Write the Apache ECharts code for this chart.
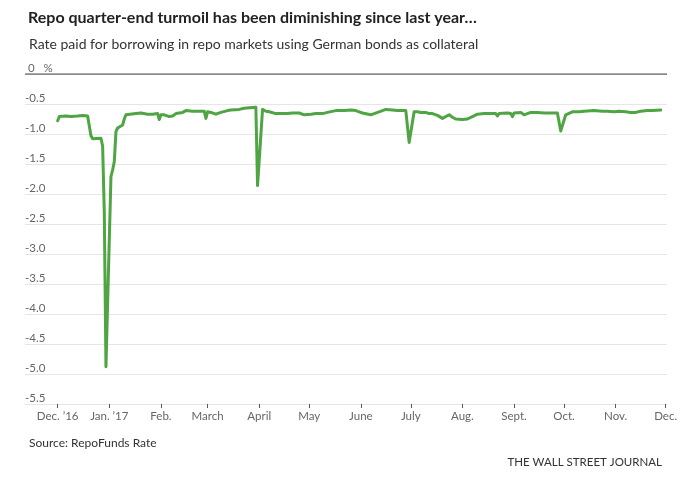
<!DOCTYPE html>
<html><head><meta charset="utf-8">
<script src="https://cdn.jsdelivr.net/npm/echarts@6/dist/echarts.min.js"></script>
<style>html,body{margin:0;padding:0;background:#fff}#c{width:700px;height:478px}</style>
</head><body><div id="c"></div>
<script>
const dates = [
'2016-12-01','2016-12-02','2016-12-06','2016-12-09','2016-12-13','2016-12-16','2016-12-19','2016-12-20','2016-12-21','2016-12-22','2016-12-23','2016-12-27','2016-12-28','2016-12-29','2016-12-30',
'2017-01-02','2017-01-03','2017-01-04','2017-01-05','2017-01-06','2017-01-09','2017-01-10','2017-01-11','2017-01-12','2017-01-17','2017-01-20','2017-01-24','2017-01-27','2017-01-30','2017-01-31',
'2017-02-01','2017-02-03','2017-02-06','2017-02-08','2017-02-10','2017-02-14','2017-02-16','2017-02-20','2017-02-24','2017-02-27','2017-02-28',
'2017-03-01','2017-03-03','2017-03-06','2017-03-09','2017-03-13','2017-03-15','2017-03-20','2017-03-23','2017-03-28','2017-03-30','2017-03-31',
'2017-04-03','2017-04-05','2017-04-07','2017-04-11','2017-04-14','2017-04-18','2017-04-21','2017-04-25','2017-04-28',
'2017-05-02','2017-05-05','2017-05-09','2017-05-12','2017-05-17','2017-05-22','2017-05-26','2017-05-29','2017-05-31',
'2017-06-02','2017-06-07','2017-06-09','2017-06-12','2017-06-16','2017-06-20','2017-06-23','2017-06-28','2017-06-29','2017-06-30',
'2017-07-03','2017-07-05','2017-07-07','2017-07-10','2017-07-12','2017-07-14','2017-07-17','2017-07-20','2017-07-24','2017-07-26','2017-07-28',
'2017-08-01','2017-08-02','2017-08-04','2017-08-07','2017-08-10','2017-08-14','2017-08-17','2017-08-21','2017-08-22','2017-08-23','2017-08-28','2017-08-30','2017-08-31',
'2017-09-01','2017-09-05','2017-09-07','2017-09-08','2017-09-11','2017-09-15','2017-09-19','2017-09-22','2017-09-27','2017-09-28','2017-09-29',
'2017-10-02','2017-10-03','2017-10-06','2017-10-10','2017-10-13','2017-10-19','2017-10-24','2017-10-27','2017-10-31',
'2017-11-03','2017-11-07','2017-11-10','2017-11-13','2017-11-16','2017-11-20','2017-11-23','2017-11-28'
];
const rates = [
-0.78,-0.71,-0.70,-0.71,-0.70,-0.69,-0.70,-0.72,-1.03,-1.08,-1.09,-1.07,-1.20,-2.30,-4.88,
-1.71,-1.60,-1.46,-0.96,-0.90,-0.85,-0.75,-0.68,-0.65,-0.66,-0.65,-0.67,-0.67,-0.66,-0.76,
-0.68,-0.68,-0.71,-0.70,-0.66,-0.64,-0.61,-0.62,-0.62,-0.62,-0.74,
-0.63,-0.64,-0.67,-0.64,-0.61,-0.60,-0.59,-0.57,-0.56,-0.555,-1.86,
-0.59,-0.62,-0.63,-0.66,-0.66,-0.66,-0.65,-0.65,-0.68,
-0.67,-0.66,-0.66,-0.64,-0.61,-0.61,-0.60,-0.61,-0.63,
-0.65,-0.68,-0.66,-0.63,-0.59,-0.60,-0.61,-0.61,-0.62,-1.14,
-0.63,-0.63,-0.64,-0.64,-0.66,-0.66,-0.69,-0.74,-0.68,-0.72,-0.75,
-0.76,-0.77,-0.75,-0.71,-0.67,-0.66,-0.66,-0.66,-0.70,-0.66,-0.65,-0.66,-0.71,
-0.65,-0.64,-0.68,-0.65,-0.64,-0.64,-0.65,-0.65,-0.65,-0.65,-0.95,
-0.68,-0.66,-0.63,-0.63,-0.62,-0.61,-0.62,-0.62,-0.63,
-0.62,-0.63,-0.64,-0.64,-0.62,-0.61,-0.61,-0.60
];
const tickDates = ['2016-12-01','2017-01-01','2017-02-01','2017-03-01','2017-04-01','2017-05-01','2017-06-01','2017-07-01','2017-08-01','2017-09-01','2017-10-01','2017-11-01','2017-12-01'];
const tickLabels = ['Dec. \u201916','Jan. \u201917','Feb.','March','April','May','June','July','Aug.','Sept.','Oct.','Nov.','Dec.'];
const yMin = -5.5, yMax = 0, yStep = 0.5;

const ts = d => new Date(d + 'T00:00:00Z').getTime();
const DAY = 86400000;
const tickTs = tickDates.map(ts);
const FONT = 'Lato, "Open Sans", sans-serif';
function labelFor(v) {
  for (let i = 0; i < tickTs.length; i++) if (Math.abs(tickTs[i] - v) < DAY / 2) return tickLabels[i];
  return '';
}
const nLines = Math.round((yMax - yMin) / yStep) + 1;
const gridColors = [];
for (let i = 0; i < nLines; i++) gridColors.push(i === nLines - 1 ? '#8a8a8a' : '#e6e6e6');

const chart = echarts.init(document.getElementById('c'), null, {renderer: 'canvas'});
chart.setOption({
  animation: false,
  backgroundColor: '#fff',
  title: [
    {text: 'Repo quarter-end turmoil has been diminishing since last year\u2026', left: 23, top: 5,
     textStyle: {fontFamily: FONT, fontSize: 16, fontWeight: 'bold', color: '#222'}},
    {text: 'Rate paid for borrowing in repo markets using German bonds as collateral', left: 24, top: 32,
     textStyle: {fontFamily: FONT, fontSize: 14, fontWeight: 'normal', color: '#333'}},
    {text: 'Source: RepoFunds Rate', left: 24, top: 432,
     textStyle: {fontFamily: FONT, fontSize: 12, fontWeight: 'normal', color: '#333'}},
    {text: 'THE WALL STREET JOURNAL', right: 33, top: 451,
     textStyle: {fontFamily: FONT, fontSize: 11.5, fontWeight: 'normal', color: '#333'}}
  ],
  grid: {left: 25, right: 33, top: 74, bottom: 74, containLabel: false},
  xAxis: {
    type: 'value',
    min: ts('2016-12-01') - 19.6 * DAY,
    max: ts('2017-12-01') + 0.8 * DAY,
    axisLine: {show: true, onZero: false, lineStyle: {color: '#e6e6e6', width: 1}},
    axisTick: {show: true, customValues: tickTs, length: 4, lineStyle: {color: '#555', width: 1}},
    axisLabel: {customValues: tickTs, formatter: v => labelFor(v), color: '#666',
                fontFamily: FONT, fontSize: 11.5, margin: 6, hideOverlap: false,
                showMinLabel: true, showMaxLabel: true},
    splitLine: {show: false}
  },
  yAxis: {
    type: 'value', min: yMin, max: yMax, interval: yStep,
    axisLine: {show: false}, axisTick: {show: false},
    axisLabel: {inside: true, align: 'left', verticalAlign: 'bottom', margin: 0, padding: [0, 0, 0, 0],
                color: '#666', fontFamily: FONT, fontSize: 11.5,
                formatter: v => v === 0 ? ' 0   %' : v.toFixed(1)},
    splitLine: {show: true, lineStyle: {color: gridColors, width: 1}}
  },
  series: [{
    type: 'line',
    data: dates.map((d, i) => [ts(d), rates[i]]),
    showSymbol: false,
    lineStyle: {color: '#4fa443', width: 3, join: 'round', cap: 'round'},
    z: 3,
    markLine: {
      silent: true, symbol: ['none', 'none'], label: {show: false},
      lineStyle: {color: '#8a8a8a', width: 1.5, type: 'solid', cap: 'butt'},
      data: [{yAxis: 0}]
    }
  }]
});
</script>
</body></html>
